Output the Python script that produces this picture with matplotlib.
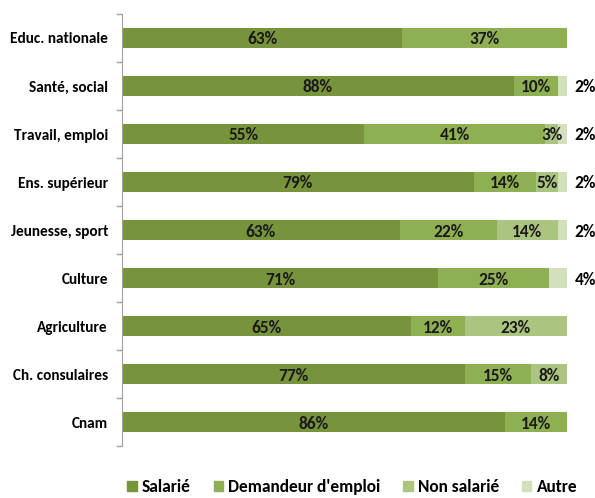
import matplotlib.pyplot as plt
import numpy as np

categories = ["Educ. nationale", "Santé, social", "Travail, emploi", "Ens. supérieur",
              "Jeunesse, sport", "Culture", "Agriculture", "Ch. consulaires", "Cnam"]
salarie = [63, 88, 55, 79, 63, 71, 65, 77, 86]
demandeur = [37, 10, 41, 14, 22, 25, 12, 15, 14]
non_salarie = [0, 0, 3, 5, 14, 0, 23, 8, 0]
autre = [0, 2, 2, 2, 2, 4, 0, 0, 0]
series_names = ["Salarié", "Demandeur d'emploi", "Non salarié", "Autre"]
colors = ["#77933C", "#8EAF52", "#ABC47F", "#D3E0BE"]

plt.rcParams['font.family'] = ["Carlito", "DejaVu Sans"]

fig = plt.figure(figsize=(5.95, 4.98), dpi=100)
ax = fig.add_axes([0.205, 0.104, 0.748, 0.868])

data = np.array([salarie, demandeur, non_salarie, autre], dtype=float)
totals = data.sum(axis=0)
shares = data / totals * 100
y = np.arange(len(categories))
left = np.zeros(len(categories))
for i, (vals, raw) in enumerate(zip(shares, data)):
    ax.barh(y, vals, left=left, height=0.42, color=colors[i], edgecolor="none")
    for j in range(len(categories)):
        if raw[j] <= 0:
            continue
        label = f"{int(raw[j])}%"
        if i == 3:
            ax.text(101.7, y[j] + 0.03, label, va="center", ha="left", fontsize=12.5,
                    fontweight="bold", color="black")
        else:
            ax.text(left[j] + vals[j] / 2, y[j] + 0.03, label, va="center", ha="center",
                    fontsize=12.5, fontweight="bold", color="#1a1a1a")
    left += vals

ax.set_xlim(0, 100)
ax.set_ylim(len(categories) - 0.5, -0.5)
ax.set_yticks(y)
ax.set_yticklabels(categories, fontsize=11, fontweight="bold")
ax.tick_params(axis="y", length=0, pad=10)
ax.set_yticks(np.arange(-0.5, len(categories), 1), minor=True)
ax.tick_params(axis="y", which="minor", length=4, color="#A0A0A0", width=1)
ax.set_xticks([])
for s in ["top", "right", "bottom"]:
    ax.spines[s].set_visible(False)
ax.spines["left"].set_color("#A0A0A0")

handles = [plt.Rectangle((0, 0), 1, 1, color=c) for c in colors]
fig.legend(handles, series_names, loc="lower center", bbox_to_anchor=(0.592, -0.026),
           ncol=4, frameon=False, prop={"size": 12.5, "weight": "bold"},
           handlelength=0.55, handleheight=0.55, handletextpad=0.3, columnspacing=1.3)

fig.savefig("out.png", dpi=100)
